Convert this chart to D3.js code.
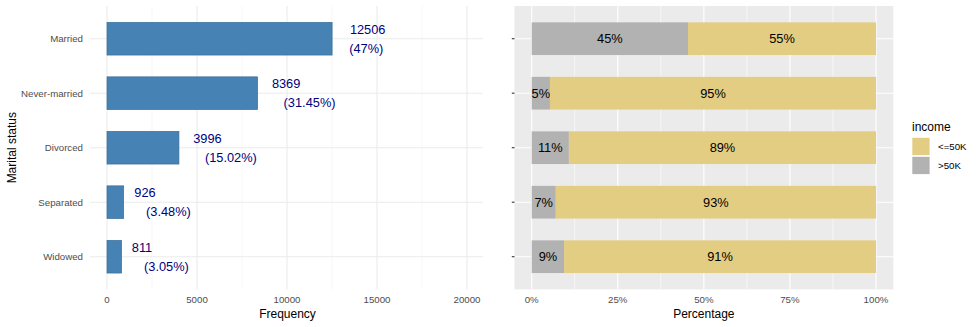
<!DOCTYPE html>
<html><head><meta charset="utf-8">
<script src="https://cdn.jsdelivr.net/npm/d3@7"></script>
<style>body{margin:0;background:#fff;font-family:"Liberation Sans",Arial,sans-serif}</style>
</head><body><svg id="c" width="980" height="327"></svg>
<script>
const categories = ["Married","Never-married","Divorced","Separated","Widowed"];
const counts = [12506, 8369, 3996, 926, 811];
const countPctLabels = ["47%","31.45%","15.02%","3.48%","3.05%"];
const shareAbove50K = [0.454, 0.053, 0.108, 0.070, 0.094];
const incomeLevels = ["<=50K", ">50K"];
const freqTicks = [0, 5000, 10000, 15000, 20000];
const pctTicks = [0, 0.25, 0.5, 0.75, 1];

const svg = d3.select("#c");
const font = '"Liberation Sans",Arial,sans-serif';
const pTop = 6, pBottom = 289.4;

// y band: ggplot discrete with 0.6 expansion
const yPos = d3.scalePoint().domain(categories).range([38.7, 256.7]);
const step = yPos.step();
const barH = step * 0.6;

// ---- Left panel
const xL = d3.scaleLinear().domain([0, 5000]).range([107, 197]);
const L0 = 90, L1 = 483;
const gL = svg.append("g");
// minor grid
d3.range(2500, 21000, 5000).forEach(v => {
  gL.append("line").attr("x1", xL(v)).attr("x2", xL(v)).attr("y1", pTop).attr("y2", pBottom)
    .attr("stroke", "#f2f2f2").attr("stroke-width", 0.6);
});
freqTicks.forEach(v => {
  gL.append("line").attr("x1", xL(v)).attr("x2", xL(v)).attr("y1", pTop).attr("y2", pBottom)
    .attr("stroke", "#ebebeb").attr("stroke-width", 1.1);
});
categories.forEach(c => {
  gL.append("line").attr("x1", L0).attr("x2", L1).attr("y1", yPos(c)).attr("y2", yPos(c))
    .attr("stroke", "#ebebeb").attr("stroke-width", 1.1);
});
// bars
gL.selectAll("rect.bar").data(categories).join("rect")
  .attr("x", xL(0)).attr("y", c => yPos(c) - barH/2)
  .attr("width", (c,i) => xL(counts[i]) - xL(0)).attr("height", barH)
  .attr("fill", "#4682B4").attr("stroke", "#3a6f9c").attr("stroke-width", 0.7);
// labels (hjust = -0.5 per line)
categories.forEach((c, i) => {
  const x = xL(counts[i]);
  const lines = [String(counts[i]), "(" + countPctLabels[i] + ")"];
  lines.forEach((t, k) => {
    const txt = gL.append("text").text(t).attr("font-family", font).attr("font-size", 12.8)
      .attr("fill", "#000080").attr("y", yPos(c) + (k === 0 ? -9.5 : 9.5)).attr("dy", "0.35em");
    const w = txt.node().getComputedTextLength();
    txt.attr("x", x + 0.5 * w);
  });
});
// y tick labels
categories.forEach(c => {
  gL.append("text").text(c).attr("x", 83).attr("y", yPos(c)).attr("dy", "0.35em")
    .attr("text-anchor", "end").attr("font-family", font).attr("font-size", 9.7).attr("fill", "#4d4d4d");
});
// x tick labels
freqTicks.forEach(v => {
  gL.append("text").text(v).attr("x", xL(v)).attr("y", 300).attr("dy", "0.35em")
    .attr("text-anchor", "middle").attr("font-family", font).attr("font-size", 9.7).attr("fill", "#4d4d4d");
});
gL.append("text").text("Frequency").attr("x", (xL(0)+xL(20000))/2 + 0.5).attr("y", 314).attr("dy", "0.35em")
  .attr("text-anchor", "middle").attr("font-family", font).attr("font-size", 12).attr("fill", "#000");
gL.append("text").text("Marital status").attr("transform", `translate(12,${(pTop+pBottom)/2}) rotate(-90)`)
  .attr("dy", "0.35em").attr("text-anchor", "middle").attr("font-family", font).attr("font-size", 12).attr("fill", "#000");

// ---- Right panel
const xR = d3.scaleLinear().domain([0, 1]).range([531.7, 876]);
const R0 = 514.5, R1 = 893.3;
const gR = svg.append("g");
gR.append("rect").attr("x", R0).attr("y", pTop).attr("width", R1 - R0).attr("height", pBottom - pTop).attr("fill", "#ebebeb");
d3.range(0.125, 1, 0.25).forEach(v => {
  gR.append("line").attr("x1", xR(v)).attr("x2", xR(v)).attr("y1", pTop).attr("y2", pBottom)
    .attr("stroke", "#fff").attr("stroke-width", 0.6);
});
pctTicks.forEach(v => {
  gR.append("line").attr("x1", xR(v)).attr("x2", xR(v)).attr("y1", pTop).attr("y2", pBottom)
    .attr("stroke", "#fff").attr("stroke-width", 1.1);
});
categories.forEach(c => {
  gR.append("line").attr("x1", R0).attr("x2", R1).attr("y1", yPos(c)).attr("y2", yPos(c))
    .attr("stroke", "#fff").attr("stroke-width", 1.1);
  gR.append("line").attr("x1", R0 - 2.7).attr("x2", R0).attr("y1", yPos(c)).attr("y2", yPos(c))
    .attr("stroke", "#333").attr("stroke-width", 1.1);
});
const colors = {"<=50K": "#E3CD83", ">50K": "#B2B2B2"};
categories.forEach((c, i) => {
  const a = shareAbove50K[i];
  const segs = [[">50K", 0, a], ["<=50K", a, 1]];
  segs.forEach(([k, s, e]) => {
    gR.append("rect").attr("x", xR(s)).attr("y", yPos(c) - barH/2)
      .attr("width", xR(e) - xR(s)).attr("height", barH).attr("fill", colors[k]);
    gR.append("text").text(Math.round((e - s) * 100) + "%")
      .attr("x", (xR(s) + xR(e))/2).attr("y", yPos(c)).attr("dy", "0.35em")
      .attr("text-anchor", "middle").attr("font-family", font).attr("font-size", 12.8).attr("fill", "#000");
  });
});
pctTicks.forEach(v => {
  gR.append("text").text(Math.round(v*100) + "%").attr("x", xR(v)).attr("y", 300).attr("dy", "0.35em")
    .attr("text-anchor", "middle").attr("font-family", font).attr("font-size", 9.7).attr("fill", "#4d4d4d");
});
gR.append("text").text("Percentage").attr("x", (xR(0)+xR(1))/2).attr("y", 314).attr("dy", "0.35em")
  .attr("text-anchor", "middle").attr("font-family", font).attr("font-size", 12).attr("fill", "#000");

// Legend
const lg = svg.append("g");
lg.append("text").text("income").attr("x", 912).attr("y", 126.5).attr("dy", "0.35em")
  .attr("font-family", font).attr("font-size", 12).attr("fill", "#000");
incomeLevels.forEach((k, i) => {
  const y0 = 137.8 + i * 19;
  lg.append("rect").attr("x", 912.3).attr("y", y0).attr("width", 17.3).attr("height", 17.3).attr("fill", colors[k]);
  lg.append("text").text(k).attr("x", 938).attr("y", y0 + 8.8).attr("dy", "0.35em")
    .attr("font-family", font).attr("font-size", 9.7).attr("fill", "#000");
});
</script></body></html>
